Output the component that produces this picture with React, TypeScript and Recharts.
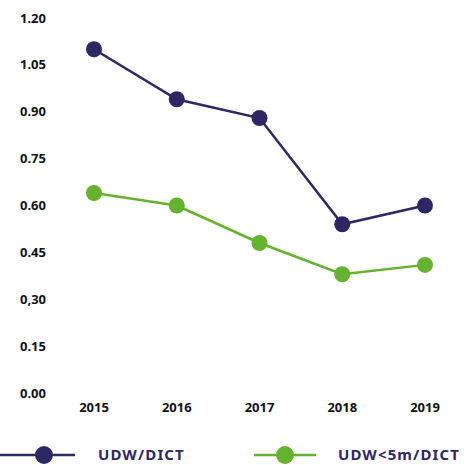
import React from "react";
import { LineChart, Line, XAxis, YAxis, Legend } from "recharts";

const years = ["2015", "2016", "2017", "2018", "2019"];
const udwDict = [1.1, 0.94, 0.88, 0.54, 0.6];
const udw5mDict = [0.64, 0.6, 0.48, 0.38, 0.41];
const yTicks = [0, 0.15, 0.3, 0.45, 0.6, 0.75, 0.9, 1.05, 1.2];
const yTickLabels = ["0.00", "0.15", "0,30", "0.45", "0.60", "0.75", "0.90", "1.05", "1.20"];
const seriesNames = ["UDW/DICT", "UDW<5m/DICT"];

const DARK = "#2d2863";
const GREEN = "#64b22e";
const FONT = "'Noto Sans', sans-serif";

const data = years.map((y, i) => ({ year: y, a: udwDict[i], b: udw5mDict[i] }));

const LegendContent = () => (
  <svg width={470} height={30} style={{ display: "block" }}>
    <line x1={0} y1={15} x2={75} y2={15} stroke={DARK} strokeWidth={2.5} />
    <circle cx={44} cy={15} r={9} fill={DARK} />
    <text x={98} y={20} fontFamily={FONT} fontWeight={700} fontSize={15} fill={DARK} letterSpacing={1.1}>
      {seriesNames[0]}
    </text>
    <line x1={254} y1={15} x2={316} y2={15} stroke={GREEN} strokeWidth={2.5} />
    <circle cx={285} cy={15} r={9} fill={GREEN} />
    <text x={338} y={20} fontFamily={FONT} fontWeight={700} fontSize={15} fill={DARK} letterSpacing={1.1}>
      {seriesNames[1]}
    </text>
  </svg>
);

export default function App() {
  return (
    <div style={{ position: "absolute", left: 0, top: 0 }}>
      <LineChart width={470} height={465} data={data} margin={{ top: 18, right: 15, bottom: 10, left: 0 }}>
        <XAxis
          dataKey="year"
          axisLine={false}
          tickLine={false}
          tickSize={0}
          tickMargin={10}
          height={32}
          padding={{ left: 38, right: 30 }}
          tick={{ fill: "#111", fontSize: 13, fontWeight: 700, fontFamily: FONT }}
        />
        <YAxis
          type="number"
          domain={[0, 1.2]}
          ticks={yTicks}
          interval={0}
          width={56}
          axisLine={false}
          tickLine={false}
          tickSize={0}
          tickMargin={10}
          tickFormatter={(v: number) => yTickLabels[yTicks.indexOf(v)] ?? String(v)}
          tick={{ fill: "#111", fontSize: 13, fontWeight: 700, fontFamily: FONT }}
        />
        <Legend
          verticalAlign="bottom"
          align="left"
          content={() => <LegendContent />}
          wrapperStyle={{ left: 0, top: 440, width: 470, height: 30 }}
        />
        <Line
          dataKey="a"
          name={seriesNames[0]}
          stroke={DARK}
          strokeWidth={2.5}
          dot={{ r: 8, fill: DARK, stroke: DARK, strokeWidth: 0 }}
          isAnimationActive={false}
        />
        <Line
          dataKey="b"
          name={seriesNames[1]}
          stroke={GREEN}
          strokeWidth={2.5}
          dot={{ r: 8, fill: GREEN, stroke: GREEN, strokeWidth: 0 }}
          isAnimationActive={false}
        />
      </LineChart>
    </div>
  );
}
